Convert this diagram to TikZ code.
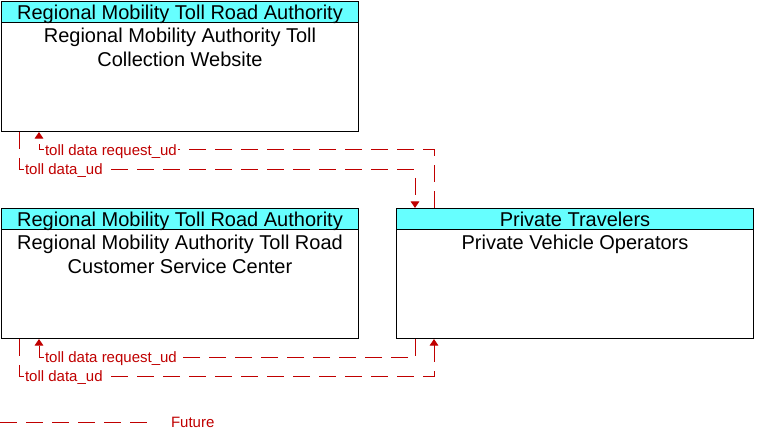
\documentclass[tikz,border=0pt]{standalone}
\usepackage{fontspec}
\setmainfont{Liberation Sans}
\usetikzlibrary{arrows.meta,positioning}

\definecolor{future}{RGB}{192,0,0}
\definecolor{headcyan}{RGB}{102,255,255}

\begin{document}
\begin{tikzpicture}[x=0.75pt, y=-0.75pt]
	\useasboundingbox (0,0) rectangle (764,441);
	\tikzstyle{comp} = [
		rectangle, draw=black, line width=0.75pt
	]
	\tikzstyle{component} = [
		comp, anchor=north west, minimum width=267.75pt, minimum height=97.5pt
	]
	\tikzstyle{head} = [
		comp, anchor=north west, fill=headcyan, minimum width=267.75pt, minimum height=15.75pt,
		inner sep=0pt, text height=11pt, text depth=0pt, font=\fontsize{15}{18}\selectfont
	]
	\tikzstyle{title} = [
		below, align=center, inner sep=0pt, yshift=-3.75pt, font=\fontsize{15}{17.6}\selectfont
	]
	\tikzstyle{flow} = [
		draw=future, line width=0.75pt, dash pattern=on 12.75pt off 6.75pt,
		-{Triangle[length=5pt, width=6.5pt]}
	]
	\tikzstyle{flowlabel} = [
		anchor=base west, fill=white, inner sep=0.6pt, text=future, font=\fontsize{11.25}{13}\selectfont
	]

	% Toll Collection Website
	\node (Website) [component] at (1,1) {};
	\node (WebsiteHead) [head] at (Website.north west) {Regional Mobility Toll Road Authority};
	\node (WebsiteTitle) [title] at (WebsiteHead.south) {Regional Mobility Authority Toll\\Collection Website};
	\coordinate [xshift=13.5pt] (web_tx) at (Website.south west);
	\coordinate [xshift=28.5pt] (web_rx) at (Website.south west);

	% Customer Service Center
	\node (CSC) [component] at (1,208) {};
	\node (CSCHead) [head] at (CSC.north west) {Regional Mobility Toll Road Authority};
	\node (CSCTitle) [title] at (CSCHead.south) {Regional Mobility Authority Toll Road\\Customer Service Center};
	\coordinate [xshift=13.5pt] (csc_tx) at (CSC.south west);
	\coordinate [xshift=28.5pt] (csc_rx) at (CSC.south west);

	% Private Vehicle Operators
	\node (PVO) [component] at (396,208) {};
	\node (PVOHead) [head] at (PVO.north west) {Private Travelers};
	\node (PVOTitle) [title] at (PVOHead.south) {Private Vehicle Operators};
	\coordinate [xshift=14.25pt] (pvo_rx_top) at (PVO.north west);
	\coordinate [xshift=28.5pt] (pvo_tx_top) at (PVO.north west);
	\coordinate [xshift=14.25pt] (pvo_tx_bot) at (PVO.south west);
	\coordinate [xshift=28.5pt] (pvo_rx_bot) at (PVO.south west);

	% PVO <-> Website
	\draw[flow] (pvo_tx_top) -- ++(0,-58) -| (web_rx);
	\draw[flow] (web_tx) -- ++(0,38) -| (pvo_rx_top);
	\node (web_req) [flowlabel] at (44,155.5) {toll data request\_ud};
	\node (web_data) [flowlabel] at (24,174.5) {toll data\_ud};

	% PVO <-> CSC
	\draw[flow] (pvo_tx_bot) -- ++(0,19) -| (csc_rx);
	\draw[flow] (csc_tx) -- ++(0,38) -| (pvo_rx_bot);
	\node (csc_req) [flowlabel] at (44,362.5) {toll data request\_ud};
	\node (csc_data) [flowlabel] at (24,381.5) {toll data\_ud};

	% Legend
	\coordinate (legend_start) at (0,422.5);
	\coordinate (legend_end) at (151,422.5);
	\draw[flow, -] (legend_start) -- (legend_end);
	\node (legend) [flowlabel, fill=none] at (170,427.5) {Future};

\end{tikzpicture}
\end{document}
